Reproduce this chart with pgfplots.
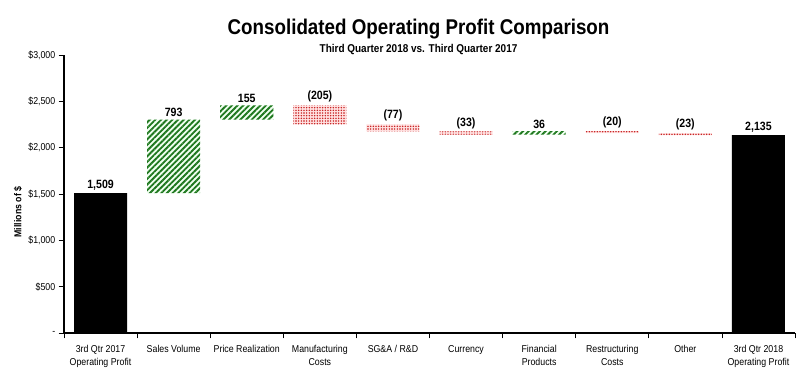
\documentclass[border=0pt]{standalone}
\usepackage{pgfplots}
\pgfplotsset{compat=1.18}
\usepackage{fontspec}
\setmainfont{Liberation Sans}[FakeStretch=0.88]
\usetikzlibrary{calc,patterns.meta}
\definecolor{gbar}{RGB}{30,120,30}
\definecolor{rbar}{RGB}{195,20,20}
\begin{document}
\begin{tikzpicture}
\begin{axis}[
  name=ax,
  scale only axis,
  width=548.25pt, height=208.5pt,
  xmin=-0.5, xmax=9.5, ymin=0, ymax=3000,
  axis lines=left,
  axis line style={-, line width=0.8pt},
  ybar stacked, bar width=39.75pt,
  ytick={0,500,...,3000},
  yticklabels={-, {\$500}, {\$1,000}, {\$1,500}, {\$2,000}, {\$2,500}, {\$3,000}},
  yticklabel style={font=\fontsize{7.5}{9}\selectfont, xshift=1pt},
  xtick={0,...,9},
  xticklabels={{3rd Qtr 2017\\Operating Profit}, {Sales Volume}, {Price Realization}, {Manufacturing\\Costs}, {SG\&A / R\&D}, {Currency}, {Financial\\Products}, {Restructuring\\Costs}, {Other}, {3rd Qtr 2018\\Operating Profit}},
  xticklabel style={font=\fontsize{7.5}{9.5}\selectfont, align=center, yshift=-2pt},
  major x tick style={draw=none},
  minor xtick={-0.5,0.5,...,9.5},
  minor x tick style={black, line width=0.6pt},
  minor tick length=4pt,
  major tick length=4pt,
  tick align=outside,
  y tick style={black, line width=0.6pt},
  clip=false,
]
% invisible base
\addplot[draw=none, fill=none] coordinates {(0,0) (1,1509) (2,2302) (3,2252) (4,2175) (5,2142) (6,2142) (7,2158) (8,2135) (9,0)};
% totals
\addplot[draw=none, fill=black] coordinates {(0,1509) (1,0) (2,0) (3,0) (4,0) (5,0) (6,0) (7,0) (8,0) (9,2135)};
% increases
\addplot[draw=none, fill=green!6, postaction={pattern={Lines[angle=45, distance=3pt, line width=1.4pt]}, pattern color=gbar}] coordinates {(0,0) (1,793) (2,155) (3,0) (4,0) (5,0) (6,36) (7,0) (8,0) (9,0)};
% decreases
\addplot[draw=none, fill=red!12, postaction={pattern={Dots[distance=2pt, radius=0.6pt]}, pattern color=rbar}] coordinates {(0,0) (1,0) (2,0) (3,205) (4,77) (5,33) (6,0) (7,20) (8,23) (9,0)};
\end{axis}
\begin{scope}[every node/.style={font=\bfseries\fontsize{9}{10}\selectfont, anchor=south, inner sep=2pt}]
\path let \p1=(ax.south west), \p2=(ax.north east) in
  \pgfextra{\pgfmathsetmacro{\dx}{(\x2-\x1)/10}\pgfmathsetmacro{\sy}{(\y2-\y1)/3000}}
  ($(ax.south west)+(0.5*\dx pt,1509*\sy pt)$) node {1,509}
  ($(ax.south west)+(1.5*\dx pt,2302*\sy pt)$) node {793}
  ($(ax.south west)+(2.5*\dx pt,2457*\sy pt)$) node {155}
  ($(ax.south west)+(3.5*\dx pt,2457*\sy pt)$) node {(205)}
  ($(ax.south west)+(4.5*\dx pt,2252*\sy pt)$) node {(77)}
  ($(ax.south west)+(5.5*\dx pt,2175*\sy pt)$) node {(33)}
  ($(ax.south west)+(6.5*\dx pt,2178*\sy pt)$) node {36}
  ($(ax.south west)+(7.5*\dx pt,2178*\sy pt)$) node {(20)}
  ($(ax.south west)+(8.5*\dx pt,2158*\sy pt)$) node {(23)}
  ($(ax.south west)+(9.5*\dx pt,2135*\sy pt)$) node {2,135};
\end{scope}
\node[anchor=base, font=\bfseries\fontsize{16}{18}\selectfont, inner sep=0pt] at ($(ax.north west)+(265.9pt,15pt)$) {Consolidated Operating Profit Comparison};
\node[anchor=base, font=\bfseries\fontsize{8.5}{10}\selectfont, inner sep=0pt] at ($(ax.north west)+(265.9pt,1.5pt)$) {Third Quarter 2018 vs. Third Quarter 2017};
\node[rotate=90, font=\bfseries\fontsize{7.5}{9}\selectfont, inner sep=0pt] at ($(ax.south west)+(-34.5pt,90.75pt)$) {Millions of \$};
\pgfresetboundingbox
\useasboundingbox ($(ax.south west)+(-48pt,-33pt)$) rectangle ($(ax.north east)+(3.75pt,41.25pt)$);
\end{tikzpicture}
\end{document}
